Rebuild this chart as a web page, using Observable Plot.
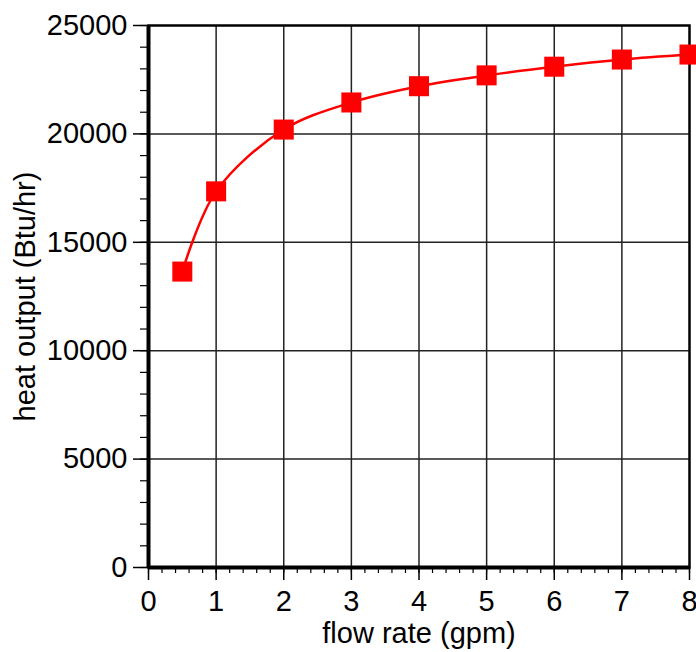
<!DOCTYPE html>
<html>
<head>
<meta charset="utf-8">
<script src="https://cdn.jsdelivr.net/npm/d3@7"></script>
<script src="https://cdn.jsdelivr.net/npm/@observablehq/plot@0.6"></script>
<style>
  html, body { margin: 0; padding: 0; background: #fff; }
</style>
</head>
<body>
<div id="chart"></div>
<script>
// Data
const flowRate = [0.5, 1, 2, 3, 4, 5, 6, 7, 8];           // gpm
const heatOutput = [13650, 17350, 20200, 21450, 22200, 22700, 23100, 23430, 23660]; // Btu/hr

const xTicks = [0, 1, 2, 3, 4, 5, 6, 7, 8];
const yTicks = [0, 5000, 10000, 15000, 20000, 25000];
const xMinorTicks = d3.range(0, 8.001, 0.2).map(v => +v.toFixed(1));
const yMinorTicks = d3.range(0, 25001, 1000);
const xLabel = "flow rate (gpm)";
const yLabel = "heat output (Btu/hr)";

const data = flowRate.map((x, i) => ({x, y: heatOutput[i]}));

const FONT = "Liberation Sans, Arial, Helvetica, sans-serif";

const chart = Plot.plot({
  width: 696,
  height: 652,
  marginLeft: 148,
  marginRight: 7,
  marginTop: 25,
  marginBottom: 85,
  style: {fontFamily: FONT, fontSize: "29px", color: "black", background: "white"},
  x: {domain: [0, 8]},
  y: {domain: [0, 25000]},
  marks: [
    // grid
    Plot.ruleX(xTicks.filter(d => d > 0 && d < 8), {stroke: "#222", strokeWidth: 1.5}),
    Plot.ruleY(yTicks.filter(d => d > 0 && d < 25000), {stroke: "#222", strokeWidth: 1.5}),
    Plot.frame({stroke: "black", strokeWidth: 2.5}),
    // minor ticks
    Plot.axisX(xMinorTicks, {anchor: "bottom", tickSize: 6, text: null, label: null, strokeWidth: 1.2, stroke: "black"}),
    Plot.axisY(yMinorTicks, {anchor: "left", tickSize: 8, text: null, label: null, strokeWidth: 1.2, stroke: "black"}),
    // major ticks + labels
    Plot.axisX(xTicks, {anchor: "bottom", tickSize: 13, tickPadding: 10, label: null, fontSize: 29, strokeWidth: 1.5, stroke: "black", fill: "black"}),
    Plot.axisY(yTicks, {anchor: "left", tickSize: 15, tickPadding: 6, label: null, fontSize: 29, strokeWidth: 1.5, stroke: "black", fill: "black", tickFormat: d => String(d)}),
    // thick left & bottom axis lines
    Plot.ruleX([0], {stroke: "black", strokeWidth: 4}),
    Plot.ruleY([0], {stroke: "black", strokeWidth: 4}),
    // curve and markers
    Plot.line(data, {x: "x", y: "y", stroke: "#ff0000", strokeWidth: 2.5, curve: "catmull-rom"}),
    Plot.dot(data, {x: "x", y: "y", symbol: "square", r: 11.3, fill: "#ff0000", stroke: "none"}),
    // axis titles
    Plot.text([xLabel], {frameAnchor: "bottom", dy: 66, fontSize: 29, fill: "black", textAnchor: "middle", lineAnchor: "middle"}),
    Plot.text([yLabel], {frameAnchor: "left", dx: -123, rotate: -90, fontSize: 29, fill: "black", textAnchor: "middle", lineAnchor: "middle"})
  ]
});

document.getElementById("chart").appendChild(chart);
</script>
</body>
</html>
